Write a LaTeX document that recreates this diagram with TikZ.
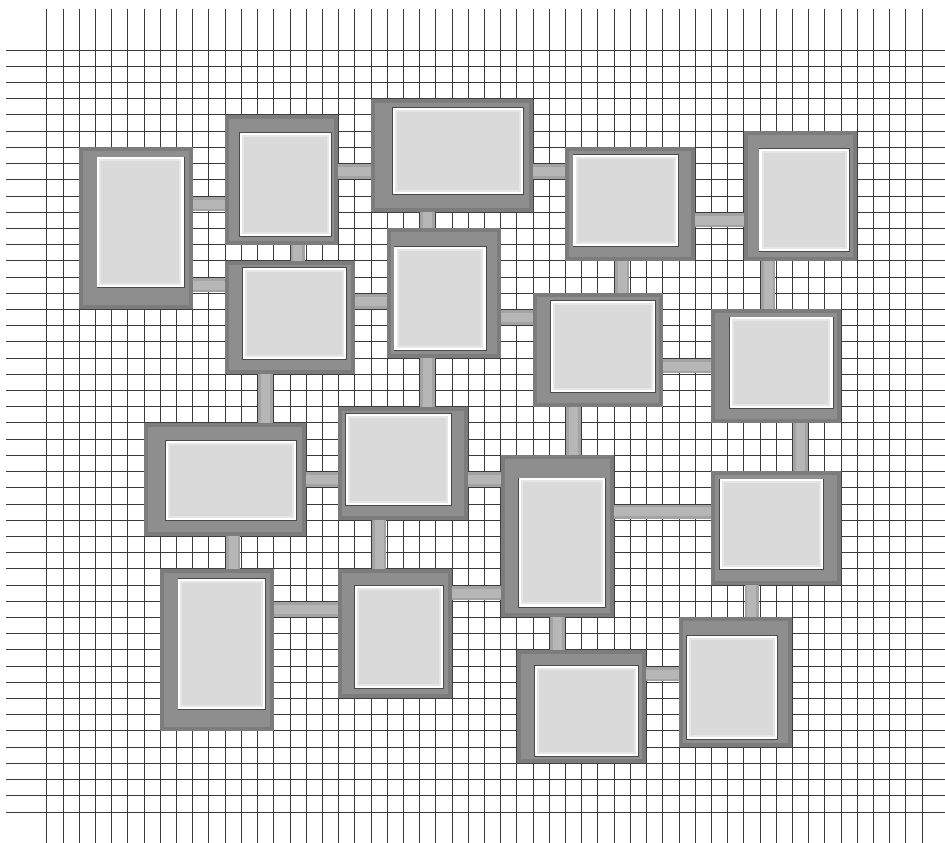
\documentclass[tikz,border=0pt]{standalone}
\usetikzlibrary{fit,calc}

\definecolor{gridgray}{HTML}{3A3A3A}
\definecolor{framegray}{HTML}{8E8E8E}
\definecolor{framerim}{HTML}{7C7C7C}
\definecolor{frameedge}{HTML}{3F3F3F}
\definecolor{floorgray}{HTML}{DADADA}
\definecolor{floorglow}{HTML}{E6E6E6}
\definecolor{flooredge}{HTML}{4A4A4A}
\definecolor{hallgray}{HTML}{B6B6B6}
\definecolor{halledge}{HTML}{A3A3A3}

\tikzset{
    gridline/.style={line width=0.7pt, draw=gridgray},
    room/.style={draw=frameedge, line width=0.7pt, fill=framegray,
        inner sep=0pt, outer sep=0pt},
    rim/.style={draw=framerim, line width=4pt},
    floor/.style={fill=floorgray},
    floorrim/.style={draw=white, line width=2.4pt},
    floorsoft/.style={draw=floorglow, line width=2pt},
    flooredgeline/.style={draw=flooredge, line width=0.6pt},
    corridor/.style={line width=14.5pt, draw=halledge,
        postaction={draw=hallgray, line width=9pt}}
}

% room: name, outer corners (grid), floor margins left/top/right/bottom (pt)
\newcommand{\room}[9]{%
    \node[room, fit={(#2,#3) (#4,#5)}] (#1) {};
    \draw[rim] ([shift={(2pt,-2pt)}]#1.north west)
        rectangle ([shift={(-2pt,2pt)}]#1.south east);
    \coordinate (#1-a) at ([shift={(#6pt,-#7pt)}]#1.north west);
    \coordinate (#1-b) at ([shift={(-#8pt,#9pt)}]#1.south east);
    \draw[flooredgeline] ([shift={(-0.3pt,0.3pt)}]#1-a)
        rectangle ([shift={(0.3pt,-0.3pt)}]#1-b);
    \fill[floor] (#1-a) rectangle (#1-b);
    \draw[floorrim] ([shift={(1.2pt,-1.2pt)}]#1-a)
        rectangle ([shift={(-1.2pt,1.2pt)}]#1-b);
    \draw[floorsoft] ([shift={(3.2pt,-3.2pt)}]#1-a)
        rectangle ([shift={(-3.2pt,3.2pt)}]#1-b);
}

\begin{document}
\begin{tikzpicture}[x=16.21pt, y=-16.21pt]
    \useasboundingbox (-2.881,-3.085) rectangle (55.417,48.92);

    % grid
    \foreach \i in {0,...,54}
        \draw[gridline] (\i,-2.5) -- (\i,48.92);
    \foreach \j in {0,...,47}
        \draw[gridline] (-2.5,\j) -- (55.417,\j);

    % rooms
    \room{r1}{2}{6}{9}{16}{18}{10}{9}{22}
    \room{r2}{11}{4}{18}{12}{15}{18}{7.5}{8.5}
    \room{r3}{11}{13}{19}{20}{17.7}{7.3}{8.7}{15}
    \room{r4}{20}{3}{30}{10}{21.8}{9}{10.3}{18}
    \room{r5}{21}{11}{28}{19}{7.2}{18.4}{14.9}{8}
    \room{r6}{32}{6}{40}{13}{7.9}{7.7}{17.4}{14.7}
    \room{r7}{43}{5}{50}{13}{15.6}{18}{7.9}{9.5}
    \room{r8}{30}{15}{38}{22}{17.7}{7.8}{7.7}{14.9}
    \room{r9}{41}{16}{49}{23}{18.7}{7.9}{8.3}{14.8}
    \room{r10}{6}{23}{16}{30}{22}{18}{10}{16}
    \room{r11}{18}{22}{26}{29}{7.5}{7.4}{17.5}{15.1}
    \room{r12}{28}{25}{35}{35}{18.4}{23}{9.1}{10.7}
    \room{r13}{41}{26}{49}{33}{8.7}{7.8}{17.7}{15.6}
    \room{r14}{7}{32}{14}{42}{18.1}{10}{8.6}{22.1}
    \room{r15}{18}{32}{25}{40}{16.5}{17}{9}{10}
    \room{r16}{29}{37}{37}{44}{18.2}{15.9}{8.2}{7.5}
    \room{r17}{39}{35}{46}{43}{7.8}{18.3}{15.1}{8}

    % corridors, east-west
    \foreach \a/\b/\r in {r1/r2/9, r1/r3/14, r2/r4/7, r3/r5/15, r4/r6/7,
        r5/r8/16, r6/r7/10, r8/r9/19, r10/r11/26, r11/r12/26,
        r12/r13/28, r14/r15/34, r15/r12/33, r16/r17/38}
        \draw[corridor] (\a.east |- 0,\r+0.5) -- (\b.west |- 0,\r+0.5);

    % corridors, north-south
    \foreach \a/\b/\c in {r2/r3/15, r4/r5/23, r6/r8/35, r7/r9/44, r3/r10/13,
        r5/r11/23, r8/r12/32, r9/r13/46, r10/r14/11, r11/r15/20,
        r12/r16/31, r13/r17/43}
        \draw[corridor] (\a.south -| \c+0.5,0) -- (\b.north -| \c+0.5,0);
\end{tikzpicture}
\end{document}
